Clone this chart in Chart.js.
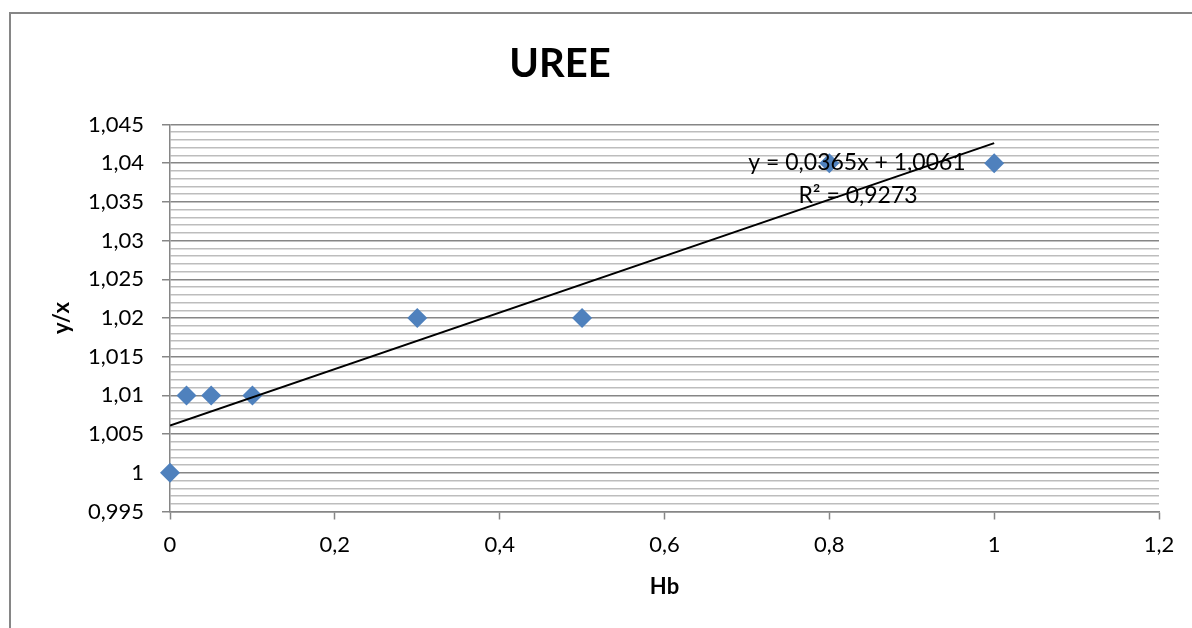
<!DOCTYPE html>
<html>
<head>
<meta charset="utf-8">
<title>UREE</title>
<script src="https://cdn.jsdelivr.net/npm/chart.js@4/dist/chart.umd.min.js"></script>
<style>
  html, body { margin: 0; padding: 0; background: #ffffff; }
  #wrap { width: 1192px; height: 628px; position: relative; }
</style>
</head>
<body>
<div id="wrap"><canvas id="c" width="1192" height="628"></canvas></div>
<script>
// Measured samples: Hb against the y/x ratio
const hbValues = [0, 0.02, 0.05, 0.1, 0.3, 0.5, 0.8, 1];
const ratioValues = [1, 1.01, 1.01, 1.01, 1.02, 1.02, 1.04, 1.04];

// Linear trendline (least squares) as reported on the chart
const trendSlope = 0.0365;
const trendIntercept = 1.0061;
const trendR2 = 0.9273;
const trendRange = [0, 1];

// Axis tick labels (comma decimal separator)
const xTickValues = [0, 0.2, 0.4, 0.6, 0.8, 1, 1.2];
const xTickLabels = ['0', '0,2', '0,4', '0,6', '0,8', '1', '1,2'];
const yTickValues = [0.995, 1, 1.005, 1.01, 1.015, 1.02, 1.025, 1.03, 1.035, 1.04, 1.045];
const yTickLabels = ['0,995', '1', '1,005', '1,01', '1,015', '1,02', '1,025', '1,03', '1,035', '1,04', '1,045'];

const chartTitle = 'UREE';
const xAxisTitle = 'Hb';
const yAxisTitle = 'y/x';

const fmt = (v, d) => v.toFixed(d).replace('.', ',');
const equationText = 'y = ' + fmt(trendSlope, 4) + 'x + ' + fmt(trendIntercept, 4);
const r2Text = 'R\u00B2 = ' + fmt(trendR2, 4);

const FONT = 'Lato, "Open Sans", "DejaVu Sans", sans-serif';
const AXIS_GREY = '#868686';
const MINOR_GREY = '#bdbdbd';

const yMin = yTickValues[0];
const yMax = yTickValues[yTickValues.length - 1];
const yMinorStep = 0.001;

function yIndex(v) { return Math.round((v - yMin) / yMinorStep); }
function isMajorY(v) { return yIndex(v) % 5 === 0; }

const scatterPoints = hbValues.map((x, i) => ({ x: x, y: ratioValues[i] }));
const trendPoints = trendRange.map(x => ({ x: x, y: trendIntercept + trendSlope * x }));

// Outer frame, chart title and trendline caption
const decorations = {
  id: 'decorations',
  beforeDraw(chart) {
    const ctx = chart.ctx;
    ctx.save();
    ctx.fillStyle = '#ffffff';
    ctx.fillRect(0, 0, chart.width, chart.height);
    ctx.restore();
  },
  afterDraw(chart) {
    const ctx = chart.ctx;
    ctx.save();
    ctx.strokeStyle = AXIS_GREY;
    ctx.lineWidth = 2;
    ctx.strokeRect(10, 13, chart.width + 50, chart.height + 50);

    ctx.fillStyle = '#000000';
    ctx.textAlign = 'center';
    ctx.textBaseline = 'alphabetic';
    ctx.font = 'bold 40px ' + FONT;
    ctx.fillText(chartTitle, 560, 77);

    ctx.font = '23px ' + FONT;
    ctx.fillText(equationText, 857, 170);
    ctx.fillText(r2Text, 858, 203);
    ctx.restore();
  }
};

new Chart(document.getElementById('c'), {
  type: 'scatter',
  data: {
    datasets: [
      {
        type: 'line',
        label: 'Linear trend',
        data: trendPoints,
        borderColor: '#000000',
        borderWidth: 2,
        pointRadius: 0,
        fill: false,
        tension: 0
      },
      {
        label: 'y/x',
        data: scatterPoints,
        clip: false,
        pointStyle: 'rectRot',
        pointRadius: 10,
        pointHoverRadius: 10,
        backgroundColor: '#4F81BD',
        borderColor: '#4F81BD',
        borderWidth: 0
      }
    ]
  },
  options: {
    responsive: false,
    animation: false,
    events: [],
    layout: { padding: { top: 124.5, right: 33, left: 0, bottom: 0 } },
    plugins: {
      legend: { display: false },
      title: { display: false },
      tooltip: { enabled: false }
    },
    scales: {
      x: {
        type: 'linear',
        min: xTickValues[0],
        max: xTickValues[xTickValues.length - 1],
        afterFit(scale) { scale.height = 116.5; },
        afterBuildTicks(scale) { scale.ticks = xTickValues.map(v => ({ value: v })); },
        ticks: {
          autoSkip: false,
          maxRotation: 0,
          padding: 12,
          color: '#000000',
          font: { family: FONT, size: 22 },
          callback: (v) => {
            const i = xTickValues.findIndex(t => Math.abs(t - v) < 1e-9);
            return i >= 0 ? xTickLabels[i] : '';
          }
        },
        grid: {
          drawOnChartArea: false,
          drawTicks: true,
          tickLength: 8,
          tickColor: AXIS_GREY,
          tickWidth: 1.5
        },
        border: { display: true, color: AXIS_GREY, width: 1.5 },
        title: {
          display: true,
          text: xAxisTitle,
          color: '#000000',
          font: { family: FONT, size: 22, weight: 'bold' },
          padding: { top: 0, bottom: 28 }
        }
      },
      y: {
        type: 'linear',
        min: yMin,
        max: yMax,
        afterFit(scale) { scale.width = 170; },
        afterBuildTicks(scale) {
          const n = yIndex(yMax);
          const ticks = [];
          for (let i = 0; i <= n; i++) ticks.push({ value: +(yMin + i * yMinorStep).toFixed(4) });
          scale.ticks = ticks;
        },
        ticks: {
          autoSkip: false,
          padding: 18,
          color: '#000000',
          font: { family: FONT, size: 22 },
          callback: (v) => {
            if (!isMajorY(v)) return '';
            const i = yTickValues.findIndex(t => Math.abs(t - v) < 1e-9);
            return i >= 0 ? yTickLabels[i] : '';
          }
        },
        grid: {
          drawOnChartArea: true,
          drawTicks: true,
          tickLength: 8,
          color: (ctx) => (ctx.tick && isMajorY(ctx.tick.value)) ? AXIS_GREY : MINOR_GREY,
          lineWidth: 1.5,
          tickColor: (ctx) => (ctx.tick && isMajorY(ctx.tick.value)) ? AXIS_GREY : 'rgba(0,0,0,0)',
          tickWidth: 1.5
        },
        border: { display: true, color: AXIS_GREY, width: 1.5 },
        title: {
          display: true,
          text: yAxisTitle,
          color: '#000000',
          font: { family: FONT, size: 22, weight: 'bold' },
          padding: { top: 49, bottom: 0 }
        }
      }
    }
  },
  plugins: [decorations]
});
</script>
</body>
</html>
